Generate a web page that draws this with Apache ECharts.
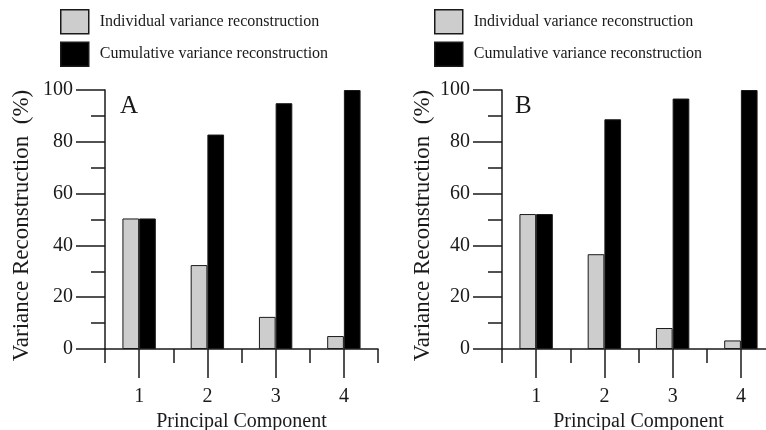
<!DOCTYPE html>
<html>
<head>
<meta charset="utf-8">
<script src="https://cdn.jsdelivr.net/npm/echarts@6/dist/echarts.min.js"></script>
<style>
html,body{margin:0;padding:0;background:#fff;}
#chart{width:766px;height:430px;}
</style>
</head>
<body>
<div id="chart"></div>
<script>
var categories = ['1', '2', '3', '4'];
var individualA = [50.4, 32.4, 12.4, 5.0];
var cumulativeA = [50.4, 82.8, 94.9, 100];
var individualB = [52.1, 36.6, 8.1, 3.3];
var cumulativeB = [52.1, 88.7, 96.7, 100];
var yTicks = [0, 20, 40, 60, 80, 100];
var panelLabels = ['A', 'B'];
var nameInd = 'Individual variance reconstruction';
var nameCum = 'Cumulative variance reconstruction';
var yName = 'Variance Reconstruction  (%)';
var xName = 'Principal Component';

var FONT = "'Liberation Serif', 'Times New Roman', serif";
var INK = '#1a1a1a';
var GRAY = '#cdcdcd';

var chart = echarts.init(document.getElementById('chart'), null, {renderer: 'canvas'});

var grids = [
  {left: 105, top: 90, width: 273, height: 259, containLabel: false, outerBoundsMode: 'none'},
  {left: 502, top: 90, width: 273, height: 259, containLabel: false, outerBoundsMode: 'none'}
];

function xAxes(gi) {
  return [
    {
      type: 'category', gridIndex: gi, data: categories, position: 'bottom', offset: 0,
      boundaryGap: true,
      axisLine: {show: true, lineStyle: {color: INK, width: 1.5}},
      axisTick: {show: true, length: 14, lineStyle: {color: INK, width: 1.5}},
      axisLabel: {show: true, margin: 38, color: INK, fontFamily: FONT, fontSize: 20},
      splitLine: {show: false},
      name: xName, nameLocation: 'middle', nameGap: 62,
      nameTextStyle: {color: INK, fontFamily: FONT, fontSize: 20}
    },
    {
      type: 'category', gridIndex: gi, data: categories, position: 'bottom', offset: 0,
      boundaryGap: true,
      axisLine: {show: false},
      axisTick: {show: true, alignWithLabel: true, length: 29, lineStyle: {color: INK, width: 1.5}},
      axisLabel: {show: false},
      splitLine: {show: false}
    }
  ];
}

function yAxis(gi, gap) {
  return {
    type: 'value', gridIndex: gi, min: yTicks[0], max: yTicks[yTicks.length - 1], interval: 20,
    axisLine: {show: true, lineStyle: {color: INK, width: 1.5}},
    axisTick: {show: true, length: 29, lineStyle: {color: INK, width: 1.5}},
    minorTick: {show: true, splitNumber: 2, length: 14, lineStyle: {color: INK, width: 1.5}},
    axisLabel: {margin: 32, color: INK, fontFamily: FONT, fontSize: 20},
    splitLine: {show: false},
    minorSplitLine: {show: false},
    name: yName, nameLocation: 'middle', nameGap: gap, nameRotate: 90,
    nameTextStyle: {color: INK, fontFamily: FONT, fontSize: 23, padding: [0, 12, 0, 0]}
  };
}

function barSeries(name, data, gi, color) {
  return {
    type: 'bar', name: name, data: data,
    xAxisIndex: gi * 2, yAxisIndex: gi,
    barWidth: 16.7, barGap: '0%',
    itemStyle: {color: color, borderColor: INK, borderWidth: 1},
    emphasis: {disabled: true},
    animation: false
  };
}

function legend(left) {
  return {
    left: left, top: 9, orient: 'vertical', padding: 0,
    itemWidth: 28, itemHeight: 24, itemGap: 7,
    icon: 'rect',
    data: [nameInd, nameCum],
    itemStyle: {borderColor: INK, borderWidth: 1.5},
    textStyle: {color: INK, fontFamily: FONT, fontSize: 16, padding: [0, 0, 0, 6]}
  };
}

var option = {
  animation: false,
  backgroundColor: '#fff',
  title: [
    {text: panelLabels[0], left: 120, top: 94, padding: 0,
     textStyle: {color: INK, fontFamily: FONT, fontSize: 25, fontWeight: 'normal'}},
    {text: panelLabels[1], left: 515, top: 94, padding: 0,
     textStyle: {color: INK, fontFamily: FONT, fontSize: 25, fontWeight: 'normal'}}
  ],
  legend: [legend(60), legend(434)],
  grid: grids,
  xAxis: xAxes(0).concat(xAxes(1)),
  yAxis: [yAxis(0, 72), yAxis(1, 68)],
  series: [
    barSeries(nameInd, individualA, 0, GRAY),
    barSeries(nameCum, cumulativeA, 0, '#000'),
    barSeries(nameInd, individualB, 1, GRAY),
    barSeries(nameCum, cumulativeB, 1, '#000')
  ]
};
chart.setOption(option);
</script>
</body>
</html>
